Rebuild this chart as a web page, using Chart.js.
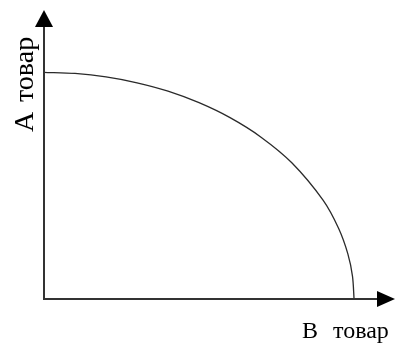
<!DOCTYPE html>
<html>
<head>
<meta charset="utf-8">
<script src="https://cdn.jsdelivr.net/npm/chart.js@4"></script>
<style>
  html, body { margin: 0; padding: 0; background: #fff; }
  #wrap { width: 397px; height: 343px; }
</style>
</head>
<body>
<div id="wrap"><canvas id="ppf"></canvas></div>
<script>
// Production possibilities curve
const goodB = [0, 1, 2, 3, 4, 5, 6, 7, 8, 9, 9.5, 9.8, 9.95, 10];
const goodA = [10, 9.95, 9.8, 9.54, 9.17, 8.66, 8.0, 7.14, 6.0, 4.36, 3.12, 1.99, 1.0, 0];
const axisMax = { b: 10.74, a: 12 };
const labelA = ["А", "товар"];
const labelB = ["В", "товар"];

const axesPlugin = {
    id: "ppfAxes",
    afterDraw(chart) {
        const { ctx, chartArea: ca } = chart;
        ctx.save();
        ctx.strokeStyle = "#333";
        ctx.fillStyle = "#000";
        ctx.lineWidth = 2;
        // vertical axis
        ctx.beginPath();
        ctx.moveTo(ca.left, ca.bottom);
        ctx.lineTo(ca.left, ca.top);
        ctx.stroke();
        ctx.beginPath();
        ctx.moveTo(ca.left, ca.top - 17);
        ctx.lineTo(ca.left - 9, ca.top);
        ctx.lineTo(ca.left + 9, ca.top);
        ctx.closePath();
        ctx.fill();
        // horizontal axis
        ctx.beginPath();
        ctx.moveTo(ca.left - 1, ca.bottom);
        ctx.lineTo(ca.right, ca.bottom);
        ctx.stroke();
        ctx.beginPath();
        ctx.moveTo(ca.right + 18, ca.bottom);
        ctx.lineTo(ca.right, ca.bottom - 8);
        ctx.lineTo(ca.right, ca.bottom + 8);
        ctx.closePath();
        ctx.fill();

        ctx.textBaseline = "alphabetic";
        ctx.textAlign = "left";
        // B label
        ctx.font = "24px 'Liberation Serif', 'DejaVu Serif', serif";
        ctx.fillText(labelB[0], 302, 338);
        ctx.fillText(labelB[1], 333, 338);
        // A label, rotated
        ctx.font = "28px 'Liberation Serif', 'DejaVu Serif', serif";
        ctx.translate(33, 132);
        ctx.rotate(-Math.PI / 2);
        ctx.fillText(labelA[0], 0, 0);
        ctx.fillText(labelA[1], 30, 0);
        ctx.restore();
    }
};

new Chart(document.getElementById("ppf"), {
    type: "scatter",
    data: {
        datasets: [{
            data: goodB.map((b, i) => ({ x: b, y: goodA[i] })),
            showLine: true,
            borderColor: "#2a2a2a",
            borderWidth: 1.3,
            pointRadius: 0,
            tension: 0.3,
            fill: false
        }]
    },
    options: {
        responsive: true,
        maintainAspectRatio: false,
        animation: false,
        layout: { padding: { left: 44, right: 20, top: 27, bottom: 44 } },
        plugins: { legend: { display: false }, tooltip: { enabled: false } },
        scales: {
            x: { type: "linear", display: false, min: 0, max: axisMax.b },
            y: { type: "linear", display: false, min: 0, max: axisMax.a }
        }
    },
    plugins: [axesPlugin]
});
</script>
</body>
</html>
